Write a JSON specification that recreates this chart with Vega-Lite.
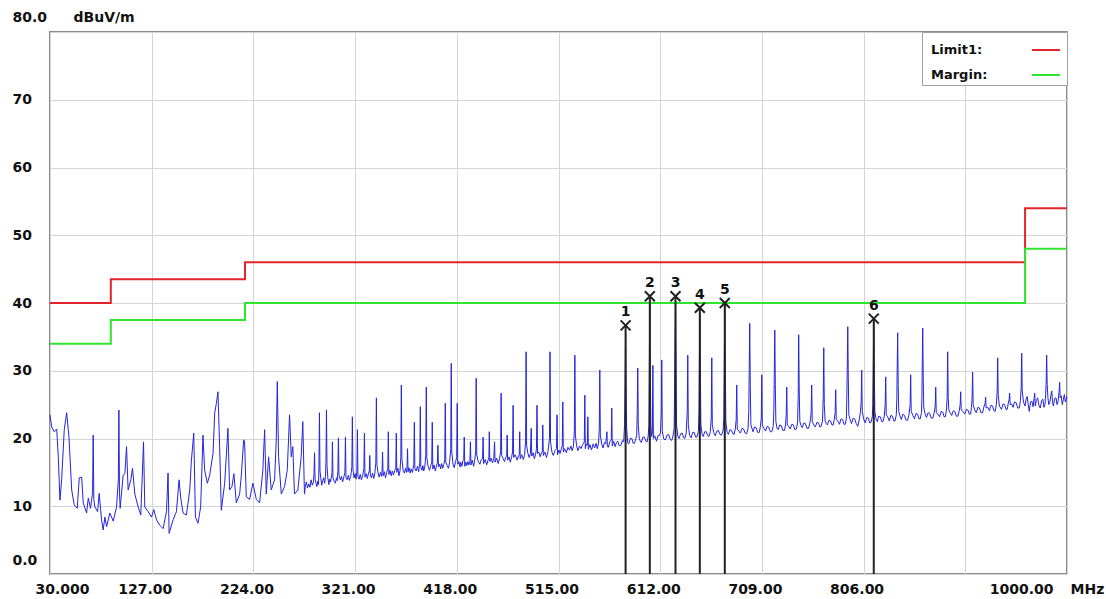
{
"$schema": "https://vega.github.io/schema/vega-lite/v6.json",
"width": 1017, "height": 542,
"autosize": "none",
"padding": {"left": 50, "top": 32, "right": 39, "bottom": 25},
"background": "white",
"config": {"view": {"stroke": "#8c8c8c", "strokeWidth": 2}, "font": "DejaVu Sans"},
"datasets": {
"limits": [
{"series":"Limit1:","f":30,"v":40},{"series":"Limit1:","f":88,"v":43.5},{"series":"Limit1:","f":216,"v":46},{"series":"Limit1:","f":960,"v":54},{"series":"Limit1:","f":1000,"v":54},
{"series":"Margin:","f":30,"v":34},{"series":"Margin:","f":88,"v":37.5},{"series":"Margin:","f":216,"v":40},{"series":"Margin:","f":960,"v":48},{"series":"Margin:","f":1000,"v":48}
],
"markers": [
{"n":"1","f":579.0,"v":36.7},{"n":"2","f":602.1,"v":41.0},{"n":"3","f":626.6,"v":41.0},{"n":"4","f":649.8,"v":39.3},{"n":"5","f":673.6,"v":40.0},{"n":"6","f":815.7,"v":37.7}
],
"trace": [
{"f":30.0,"v":23.5},{"f":31.6,"v":21.7},{"f":34.0,"v":21.0},{"f":36.4,"v":21.4},{"f":37.9,"v":17.3},{"f":39.5,"v":10.9},{"f":41.1,"v":13.9},{"f":43.6,"v":21.3},{"f":45.9,"v":23.8},{"f":48.1,"v":20.2},{"f":50.7,"v":12.4},{"f":53.1,"v":10.2},{"f":56.0,"v":9.7},{"f":57.9,"v":14.2},{"f":60.2,"v":14.3},{"f":61.7,"v":10.5},{"f":64.9,"v":9.0},{"f":66.5,"v":11.2},{"f":68.7,"v":9.7},{"f":70.6,"v":12.0},{"f":71.2,"v":20.5},{"f":71.8,"v":11.0},{"f":72.8,"v":9.9},{"f":75.4,"v":9.2},{"f":76.9,"v":11.9},{"f":79.2,"v":8.0},{"f":80.7,"v":6.5},{"f":82.4,"v":8.4},{"f":84.0,"v":7.0},{"f":87.1,"v":9.0},{"f":90.3,"v":7.8},{"f":93.5,"v":9.9},{"f":95.2,"v":14.0},{"f":95.7,"v":24.2},{"f":96.3,"v":12.0},{"f":96.9,"v":9.7},{"f":99.8,"v":14.6},{"f":101.4,"v":14.8},{"f":103.0,"v":18.8},{"f":104.5,"v":12.4},{"f":107.1,"v":13.9},{"f":108.7,"v":15.6},{"f":110.9,"v":11.8},{"f":114.1,"v":9.9},{"f":116.6,"v":8.7},{"f":119.2,"v":19.5},{"f":120.4,"v":9.9},{"f":123.6,"v":9.2},{"f":126.8,"v":8.4},{"f":129.0,"v":9.5},{"f":131.6,"v":8.0},{"f":134.7,"v":7.2},{"f":137.9,"v":6.7},{"f":141.1,"v":9.2},{"f":142.6,"v":14.9},{"f":143.6,"v":6.0},{"f":147.4,"v":8.0},{"f":150.6,"v":9.2},{"f":153.1,"v":13.9},{"f":154.7,"v":11.2},{"f":156.9,"v":9.0},{"f":160.1,"v":8.7},{"f":163.3,"v":12.4},{"f":164.9,"v":16.8},{"f":167.1,"v":20.8},{"f":168.7,"v":8.4},{"f":171.2,"v":7.5},{"f":173.7,"v":9.9},{"f":175.9,"v":20.5},{"f":177.5,"v":15.3},{"f":180.1,"v":13.4},{"f":182.3,"v":14.6},{"f":185.5,"v":17.8},{"f":187.1,"v":23.8},{"f":188.7,"v":25.2},{"f":190.2,"v":26.9},{"f":191.8,"v":18.8},{"f":193.4,"v":9.4},{"f":196.6,"v":13.4},{"f":199.7,"v":21.5},{"f":201.3,"v":12.4},{"f":203.5,"v":12.9},{"f":205.4,"v":14.8},{"f":207.7,"v":10.5},{"f":210.9,"v":11.8},{"f":212.5,"v":14.6},{"f":214.7,"v":19.8},{"f":215.6,"v":19.5},{"f":217.2,"v":11.4},{"f":220.4,"v":11.0},{"f":223.5,"v":13.4},{"f":226.8,"v":11.0},{"f":229.9,"v":10.5},{"f":233.0,"v":15.3},{"f":234.7,"v":21.3},{"f":236.3,"v":11.8},{"f":238.5,"v":17.3},{"f":241.0,"v":12.4},{"f":244.2,"v":13.9},{"f":245.8,"v":19.8},{"f":246.8,"v":28.4},{"f":248.0,"v":17.3},{"f":250.6,"v":11.8},{"f":253.7,"v":12.9},{"f":256.3,"v":15.3},{"f":258.5,"v":23.5},{"f":260.1,"v":17.3},{"f":261.6,"v":18.8},{"f":263.2,"v":11.8},{"f":266.4,"v":12.4},{"f":269.6,"v":17.3},{"f":271.1,"v":22.5},{"f":272.7,"v":11.8},
{"f":273.5,"v":12.9},{"f":274.5,"v":13.6},{"f":275.6,"v":12.7},{"f":276.8,"v":13.3},{"f":278.0,"v":12.8},{"f":279.0,"v":13.9},{"f":280.2,"v":13.1},{"f":281.3,"v":13.6},{"f":281.8,"v":14.8},{"f":282.3,"v":17.9},{"f":282.8,"v":14.0},{"f":283.6,"v":13.5},{"f":284.5,"v":12.9},{"f":285.4,"v":13.7},{"f":286.1,"v":13.2},{"f":286.5,"v":15.5},{"f":287.0,"v":23.8},{"f":287.5,"v":15.2},{"f":288.3,"v":14.1},{"f":289.2,"v":13.1},{"f":290.1,"v":13.8},{"f":291.0,"v":14.2},{"f":292.0,"v":13.4},{"f":292.8,"v":14.6},{"f":293.2,"v":16.5},{"f":293.7,"v":24.2},{"f":294.2,"v":16.0},{"f":295.0,"v":14.2},{"f":296.0,"v":13.2},{"f":296.8,"v":14.0},{"f":297.6,"v":13.6},{"f":298.4,"v":14.3},{"f":299.0,"v":15.0},{"f":299.4,"v":19.5},{"f":299.9,"v":14.2},{"f":301.0,"v":13.7},{"f":302.2,"v":13.4},{"f":303.3,"v":14.2},{"f":304.0,"v":13.8},{"f":304.6,"v":15.3},{"f":305.1,"v":20.1},{"f":305.6,"v":14.6},{"f":306.9,"v":13.9},{"f":308.0,"v":14.4},{"f":309.1,"v":13.6},{"f":310.2,"v":14.3},{"f":311.3,"v":15.0},{"f":311.8,"v":20.2},{"f":312.3,"v":14.2},{"f":313.5,"v":13.9},{"f":314.6,"v":14.6},{"f":315.6,"v":13.8},{"f":316.8,"v":14.4},{"f":317.9,"v":15.8},{"f":318.4,"v":23.2},{"f":318.9,"v":15.5},{"f":320.0,"v":14.2},{"f":321.0,"v":14.8},{"f":321.9,"v":14.0},{"f":322.7,"v":15.2},{"f":323.2,"v":21.3},{"f":323.7,"v":14.4},{"f":324.8,"v":14.0},{"f":325.9,"v":14.7},{"f":327.0,"v":13.9},{"f":328.2,"v":14.5},{"f":329.4,"v":15.6},{"f":329.9,"v":20.8},{"f":330.4,"v":14.3},{"f":331.6,"v":14.8},{"f":332.7,"v":14.1},{"f":333.8,"v":14.9},{"f":334.6,"v":15.2},{"f":335.0,"v":17.5},{"f":335.5,"v":14.6},{"f":336.6,"v":14.2},{"f":337.7,"v":14.9},{"f":338.8,"v":14.1},{"f":339.8,"v":14.8},{"f":340.8,"v":16.5},{"f":341.3,"v":26.0},{"f":341.8,"v":16.2},{"f":342.9,"v":14.9},{"f":344.0,"v":14.3},{"f":345.1,"v":15.0},{"f":346.3,"v":14.4},{"f":346.8,"v":15.5},{"f":347.2,"v":18.0},{"f":347.7,"v":14.5},{"f":348.9,"v":15.1},{"f":350.0,"v":14.2},{"f":351.1,"v":15.0},{"f":352.2,"v":15.5},{"f":352.7,"v":21.0},{"f":353.2,"v":14.7},{"f":354.3,"v":15.3},{"f":355.4,"v":14.5},{"f":356.5,"v":15.2},{"f":357.6,"v":14.6},{"f":358.8,"v":15.3},{"f":359.8,"v":15.6},{"f":360.3,"v":20.8},{"f":360.8,"v":15.0},{"f":361.8,"v":15.6},{"f":362.8,"v":14.5},{"f":363.8,"v":15.2},{"f":364.6,"v":17.2},{"f":365.1,"v":27.9},{"f":365.6,"v":17.0},{"f":366.8,"v":15.3},{"f":368.0,"v":14.9},{"f":369.1,"v":15.6},{"f":370.1,"v":15.0},{"f":370.6,"v":16.0},{"f":371.0,"v":18.5},{"f":371.5,"v":15.1},{"f":372.5,"v":15.7},{"f":373.5,"v":14.9},{"f":374.5,"v":15.5},{"f":375.7,"v":15.0},{"f":377.0,"v":16.2},{"f":377.5,"v":22.4},{"f":378.0,"v":15.6},{"f":379.2,"v":15.2},{"f":380.5,"v":15.9},{"f":381.6,"v":15.1},{"f":382.7,"v":16.5},{"f":383.2,"v":24.7},{"f":383.7,"v":15.8},{"f":384.8,"v":15.3},{"f":385.7,"v":16.0},{"f":386.5,"v":15.2},{"f":387.5,"v":15.8},{"f":388.4,"v":17.5},{"f":388.9,"v":27.6},{"f":389.4,"v":17.2},{"f":390.6,"v":15.9},{"f":392.0,"v":15.3},{"f":393.1,"v":16.0},{"f":394.1,"v":16.4},{"f":394.6,"v":22.4},{"f":395.1,"v":15.5},{"f":396.3,"v":16.1},{"f":397.5,"v":15.2},{"f":398.6,"v":16.0},{"f":399.5,"v":16.4},{"f":400.0,"v":19.0},{"f":400.5,"v":15.8},{"f":401.7,"v":16.2},{"f":402.6,"v":15.5},{"f":403.5,"v":16.3},{"f":404.6,"v":15.6},{"f":405.6,"v":16.2},{"f":406.5,"v":16.8},{"f":407.0,"v":25.2},{"f":407.5,"v":16.5},{"f":408.8,"v":16.0},{"f":410.0,"v":15.6},{"f":411.1,"v":16.4},{"f":412.2,"v":18.5},{"f":412.7,"v":31.1},{"f":413.2,"v":18.0},{"f":414.4,"v":16.2},{"f":415.5,"v":15.7},{"f":416.7,"v":16.5},{"f":417.9,"v":17.2},{"f":418.4,"v":25.2},{"f":418.9,"v":16.2},{"f":420.0,"v":16.6},{"f":421.0,"v":15.8},{"f":421.8,"v":16.5},{"f":422.8,"v":15.9},{"f":423.8,"v":16.7},{"f":424.6,"v":16.9},{"f":425.1,"v":20.2},{"f":425.6,"v":15.9},{"f":426.6,"v":16.5},{"f":427.6,"v":16.0},{"f":428.5,"v":16.6},{"f":429.6,"v":16.1},{"f":430.5,"v":16.6},{"f":431.0,"v":19.5},{"f":431.5,"v":16.1},{"f":432.7,"v":16.8},{"f":434.0,"v":15.9},{"f":435.0,"v":16.7},{"f":436.0,"v":18.0},{"f":436.5,"v":28.9},{"f":437.0,"v":17.6},{"f":438.5,"v":16.6},{"f":440.0,"v":16.2},{"f":441.3,"v":16.9},{"f":442.6,"v":17.0},{"f":443.1,"v":20.2},{"f":443.6,"v":16.3},{"f":445.0,"v":16.9},{"f":446.5,"v":16.1},{"f":447.8,"v":16.8},{"f":448.6,"v":17.2},{"f":449.0,"v":21.0},{"f":449.5,"v":16.6},{"f":450.7,"v":17.1},{"f":452.0,"v":16.4},{"f":453.3,"v":17.0},{"f":454.0,"v":19.5},{"f":454.5,"v":16.5},{"f":456.0,"v":17.1},{"f":457.5,"v":16.3},{"f":458.7,"v":17.0},{"f":459.8,"v":18.0},{"f":460.3,"v":26.7},{"f":460.8,"v":17.5},{"f":462.2,"v":17.0},{"f":463.5,"v":16.6},{"f":464.8,"v":17.3},{"f":465.6,"v":17.4},{"f":466.0,"v":20.5},{"f":466.5,"v":16.8},{"f":467.8,"v":17.3},{"f":469.0,"v":16.5},{"f":470.2,"v":17.2},{"f":471.2,"v":18.0},{"f":471.7,"v":24.9},{"f":472.2,"v":17.2},{"f":473.8,"v":17.6},{"f":475.5,"v":16.8},{"f":476.8,"v":17.4},{"f":477.6,"v":17.6},{"f":478.0,"v":21.0},{"f":478.5,"v":17.0},{"f":480.0,"v":17.6},{"f":481.5,"v":16.9},{"f":482.6,"v":17.5},{"f":483.6,"v":19.5},{"f":484.1,"v":32.8},{"f":484.6,"v":19.0},{"f":485.8,"v":17.8},{"f":487.0,"v":17.2},{"f":488.2,"v":17.8},{"f":489.0,"v":21.5},{"f":489.5,"v":17.4},{"f":490.8,"v":17.9},{"f":492.0,"v":17.0},{"f":493.2,"v":17.7},{"f":494.0,"v":18.5},{"f":494.5,"v":24.9},{"f":495.0,"v":17.8},{"f":496.3,"v":18.0},{"f":497.5,"v":17.3},{"f":498.8,"v":17.9},{"f":499.6,"v":18.0},{"f":500.0,"v":22.0},{"f":500.5,"v":17.5},{"f":502.0,"v":18.0},{"f":503.5,"v":17.2},{"f":505.0,"v":18.1},{"f":506.4,"v":20.0},{"f":506.9,"v":32.8},{"f":507.4,"v":19.5},{"f":508.7,"v":18.0},{"f":510.0,"v":17.5},{"f":511.6,"v":18.2},{"f":513.1,"v":18.5},{"f":513.6,"v":23.5},{"f":514.1,"v":17.6},{"f":515.3,"v":18.3},{"f":516.5,"v":17.8},{"f":517.6,"v":18.4},{"f":518.6,"v":19.0},{"f":519.1,"v":25.4},{"f":519.6,"v":18.0},
{"f":520.8,"v":18.5},{"f":522.5,"v":17.9},{"f":524.0,"v":18.7},{"f":525.5,"v":18.3},{"f":526.8,"v":18.9},{"f":528.0,"v":18.2},{"f":529.2,"v":18.8},{"f":530.1,"v":21.0},{"f":530.6,"v":32.3},{"f":531.1,"v":20.5},{"f":532.3,"v":18.9},{"f":533.5,"v":18.2},{"f":535.0,"v":18.9},{"f":536.5,"v":18.5},{"f":538.0,"v":19.1},{"f":539.6,"v":19.5},{"f":540.1,"v":26.4},{"f":540.6,"v":18.5},{"f":541.6,"v":19.2},{"f":542.5,"v":19.0},{"f":543.0,"v":23.2},{"f":543.5,"v":18.4},{"f":545.0,"v":19.1},{"f":546.5,"v":18.3},{"f":548.0,"v":19.2},{"f":549.5,"v":18.6},{"f":550.8,"v":19.3},{"f":552.0,"v":18.5},{"f":553.2,"v":19.3},{"f":553.9,"v":21.5},{"f":554.4,"v":30.1},{"f":554.9,"v":20.5},{"f":556.2,"v":19.2},{"f":557.5,"v":18.6},{"f":558.8,"v":19.4},{"f":560.0,"v":19.2},{"f":561.2,"v":21.0},{"f":561.6,"v":18.8},{"f":562.5,"v":18.7},{"f":563.9,"v":19.5},{"f":565.3,"v":19.8},{"f":565.8,"v":24.5},{"f":566.3,"v":18.9},{"f":567.6,"v":19.6},{"f":569.0,"v":18.8},{"f":570.3,"v":19.4},{"f":571.5,"v":19.6},{"f":573.0,"v":18.9},{"f":574.5,"v":19.0},{"f":575.8,"v":19.7},{"f":577.2,"v":19.5},{"f":578.0,"v":22.0},{"f":578.5,"v":28.0},{"f":579.0,"v":35.5},{"f":579.5,"v":26.0},{"f":580.0,"v":21.5},{"f":581.0,"v":19.4},{"f":582.0,"v":19.2},{"f":583.5,"v":20.0},{"f":585.0,"v":20.0},{"f":586.2,"v":19.3},{"f":587.5,"v":19.3},{"f":588.8,"v":20.0},{"f":589.6,"v":20.5},{"f":590.1,"v":24.0},{"f":590.6,"v":30.4},{"f":591.1,"v":22.0},{"f":592.0,"v":20.0},{"f":593.0,"v":19.6},{"f":594.0,"v":19.4},{"f":595.5,"v":20.2},{"f":597.0,"v":20.2},{"f":598.3,"v":19.6},{"f":599.5,"v":19.5},{"f":600.6,"v":20.4},{"f":601.2,"v":22.0},{"f":601.6,"v":30.0},{"f":602.1,"v":40.4},{"f":602.6,"v":29.0},{"f":603.1,"v":22.0},{"f":603.8,"v":20.3},{"f":604.5,"v":20.8},{"f":605.0,"v":30.8},{"f":605.5,"v":20.0},{"f":606.8,"v":20.4},{"f":608.5,"v":19.6},{"f":609.8,"v":20.4},{"f":611.0,"v":20.4},{"f":612.2,"v":20.8},{"f":613.0,"v":23.5},{"f":613.5,"v":31.6},{"f":614.0,"v":21.0},{"f":615.5,"v":19.9},{"f":617.0,"v":19.8},{"f":618.5,"v":20.5},{"f":620.0,"v":20.6},{"f":621.5,"v":19.9},{"f":623.0,"v":19.7},{"f":624.4,"v":20.5},{"f":625.3,"v":21.5},{"f":625.8,"v":28.5},{"f":626.1,"v":33.0},{"f":626.6,"v":40.4},{"f":627.1,"v":30.0},{"f":627.6,"v":22.0},{"f":628.8,"v":20.3},{"f":630.0,"v":20.0},{"f":631.5,"v":20.7},{"f":633.0,"v":20.8},{"f":634.3,"v":20.1},{"f":635.5,"v":20.0},{"f":636.8,"v":20.8},{"f":637.8,"v":24.0},{"f":638.3,"v":32.3},{"f":638.8,"v":22.0},{"f":640.0,"v":20.5},{"f":641.5,"v":20.1},{"f":643.0,"v":20.9},{"f":644.5,"v":20.9},{"f":645.8,"v":20.2},{"f":647.0,"v":20.2},{"f":648.4,"v":21.0},{"f":649.0,"v":24.0},{"f":649.3,"v":30.0},{"f":649.8,"v":38.5},{"f":650.3,"v":30.0},{"f":650.8,"v":22.0},{"f":652.0,"v":20.6},{"f":653.0,"v":20.3},{"f":654.5,"v":21.0},{"f":656.0,"v":21.0},{"f":657.3,"v":20.4},{"f":658.5,"v":20.3},{"f":659.8,"v":21.0},{"f":660.7,"v":23.0},{"f":661.2,"v":31.9},{"f":661.7,"v":22.0},{"f":663.0,"v":20.9},{"f":664.5,"v":20.4},{"f":666.0,"v":21.1},{"f":667.5,"v":21.2},{"f":669.0,"v":20.6},{"f":670.5,"v":20.5},{"f":672.0,"v":21.2},{"f":672.7,"v":23.0},{"f":673.1,"v":30.0},{"f":673.6,"v":39.7},{"f":674.1,"v":31.0},{"f":674.6,"v":22.5},{"f":675.8,"v":20.9},{"f":677.0,"v":20.6},{"f":678.5,"v":21.3},{"f":680.0,"v":21.2},{"f":681.3,"v":20.7},{"f":682.5,"v":20.6},{"f":683.6,"v":21.4},{"f":684.5,"v":22.8},{"f":685.0,"v":27.9},{"f":685.5,"v":21.4},{"f":687.0,"v":21.1},{"f":688.5,"v":20.8},{"f":690.0,"v":21.5},{"f":691.5,"v":21.4},{"f":693.0,"v":20.8},{"f":694.5,"v":20.7},{"f":695.8,"v":21.5},{"f":696.5,"v":24.0},{"f":696.9,"v":30.0},{"f":697.4,"v":37.0},{"f":697.9,"v":28.0},{"f":698.5,"v":22.0},{"f":700.5,"v":21.0},{"f":702.0,"v":21.7},{"f":703.5,"v":21.6},{"f":705.0,"v":20.9},{"f":706.5,"v":20.9},{"f":707.6,"v":21.8},{"f":708.4,"v":23.0},{"f":708.9,"v":29.4},{"f":709.4,"v":22.0},{"f":711.0,"v":21.5},{"f":712.5,"v":21.1},{"f":714.0,"v":21.8},{"f":715.5,"v":21.7},{"f":717.0,"v":21.0},{"f":718.5,"v":21.0},{"f":719.8,"v":21.8},{"f":720.4,"v":24.0},{"f":720.8,"v":29.5},{"f":721.3,"v":36.0},{"f":721.8,"v":28.0},{"f":722.3,"v":22.5},{"f":723.5,"v":21.5},{"f":724.5,"v":21.3},{"f":726.0,"v":22.0},{"f":727.5,"v":21.9},{"f":729.0,"v":21.2},{"f":730.5,"v":21.2},{"f":731.5,"v":22.0},{"f":732.2,"v":23.5},{"f":732.7,"v":27.6},{"f":733.2,"v":22.0},{"f":734.6,"v":21.8},{"f":736.0,"v":21.4},{"f":737.5,"v":22.1},{"f":739.0,"v":22.0},{"f":740.4,"v":21.3},{"f":741.8,"v":21.4},{"f":743.0,"v":22.3},{"f":743.6,"v":26.0},{"f":744.1,"v":35.3},{"f":744.6,"v":27.0},{"f":745.2,"v":22.5},{"f":746.3,"v":21.9},{"f":747.5,"v":21.6},{"f":749.0,"v":22.3},{"f":750.5,"v":22.2},{"f":752.0,"v":21.5},{"f":753.5,"v":21.5},{"f":754.8,"v":22.3},{"f":755.5,"v":23.0},{"f":756.0,"v":24.0},{"f":756.5,"v":27.9},{"f":757.0,"v":22.5},{"f":758.5,"v":22.0},{"f":760.0,"v":21.7},{"f":761.5,"v":22.4},{"f":763.0,"v":22.3},{"f":764.3,"v":21.7},{"f":765.5,"v":21.8},{"f":766.8,"v":22.6},{"f":767.5,"v":26.0},{"f":768.0,"v":33.4},{"f":768.5,"v":25.0},{"f":769.3,"v":22.6},{"f":770.4,"v":22.2},{"f":771.5,"v":22.0},{"f":773.0,"v":22.7},{"f":774.5,"v":22.6},{"f":775.8,"v":22.0},{"f":777.0,"v":22.0},{"f":778.0,"v":22.8},{"f":778.9,"v":23.8},{"f":779.4,"v":27.2},{"f":779.9,"v":22.8},{"f":781.5,"v":22.6},{"f":783.0,"v":22.1},{"f":784.5,"v":22.9},{"f":786.0,"v":22.8},{"f":787.3,"v":22.1},{"f":788.5,"v":22.1},{"f":789.6,"v":23.0},{"f":790.1,"v":27.0},{"f":790.4,"v":30.0},{"f":790.9,"v":36.5},{"f":791.4,"v":29.0},{"f":791.9,"v":23.5},{"f":793.2,"v":22.8},{"f":794.5,"v":22.2},{"f":796.0,"v":23.0},{"f":797.5,"v":22.9},{"f":799.0,"v":22.2},{"f":800.5,"v":21.8},{"f":802.0,"v":22.9},{"f":803.0,"v":24.0},{"f":803.7,"v":25.5},{"f":804.2,"v":30.1},{"f":804.7,"v":24.0},{"f":806.0,"v":22.9},{"f":807.5,"v":22.3},{"f":809.0,"v":23.1},{"f":810.5,"v":23.0},{"f":811.8,"v":22.3},{"f":813.2,"v":22.4},{"f":814.3,"v":23.2},{"f":814.8,"v":25.0},{"f":815.2,"v":30.0},{"f":815.7,"v":37.2},{"f":816.2,"v":30.0},{"f":816.7,"v":24.0},{"f":817.8,"v":22.9},{"f":819.0,"v":22.5},{"f":820.5,"v":23.3},{"f":822.0,"v":23.2},{"f":823.3,"v":22.5},{"f":824.5,"v":22.5},{"f":825.7,"v":23.3},{"f":826.6,"v":25.0},{"f":827.1,"v":29.1},{"f":827.6,"v":23.5},{"f":829.0,"v":23.2},{"f":830.5,"v":22.6},{"f":832.0,"v":23.4},{"f":833.5,"v":23.3},{"f":834.8,"v":22.6},{"f":836.0,"v":22.6},{"f":837.2,"v":23.5},{"f":837.7,"v":26.0},{"f":838.0,"v":30.0},{"f":838.5,"v":35.6},{"f":839.0,"v":28.0},{"f":839.5,"v":24.0},{"f":840.8,"v":23.3},{"f":842.0,"v":22.8},{"f":843.5,"v":23.6},{"f":845.0,"v":23.4},{"f":846.5,"v":22.7},{"f":848.0,"v":22.7},{"f":849.3,"v":23.5},{"f":850.4,"v":25.0},{"f":850.9,"v":29.4},{"f":851.4,"v":24.0},{"f":853.0,"v":23.4},{"f":854.5,"v":22.9},{"f":856.0,"v":23.7},{"f":857.5,"v":23.6},{"f":858.8,"v":22.9},{"f":860.0,"v":22.9},{"f":861.2,"v":23.8},{"f":861.6,"v":26.0},{"f":861.9,"v":30.0},{"f":862.4,"v":36.3},{"f":862.9,"v":28.5},{"f":863.4,"v":24.5},{"f":864.7,"v":23.6},{"f":866.0,"v":23.1},{"f":867.5,"v":23.8},{"f":869.0,"v":23.7},{"f":870.5,"v":23.0},{"f":872.0,"v":23.0},{"f":873.3,"v":23.8},{"f":874.3,"v":24.8},{"f":874.8,"v":27.6},{"f":875.3,"v":23.8},{"f":877.0,"v":23.6},{"f":878.5,"v":23.2},{"f":880.0,"v":24.0},{"f":881.5,"v":23.9},{"f":882.8,"v":23.2},{"f":884.0,"v":23.2},{"f":885.0,"v":24.2},{"f":885.7,"v":26.0},{"f":886.2,"v":32.8},{"f":886.7,"v":26.0},{"f":887.3,"v":24.2},{"f":888.6,"v":23.8},{"f":890.0,"v":23.4},{"f":891.5,"v":24.1},{"f":893.0,"v":24.0},{"f":894.5,"v":23.3},{"f":896.0,"v":23.3},{"f":897.2,"v":24.1},{"f":898.1,"v":25.0},{"f":898.6,"v":26.9},{"f":899.1,"v":24.2},{"f":900.8,"v":24.0},{"f":902.5,"v":23.6},{"f":904.0,"v":24.3},{"f":905.5,"v":24.2},{"f":906.8,"v":23.6},{"f":908.0,"v":23.6},{"f":908.9,"v":24.6},{"f":909.5,"v":26.0},{"f":910.0,"v":29.8},{"f":910.5,"v":25.0},{"f":912.0,"v":24.2},{"f":913.5,"v":23.8},{"f":915.0,"v":24.6},{"f":916.5,"v":24.5},{"f":918.0,"v":23.8},{"f":919.5,"v":23.8},{"f":920.8,"v":24.7},{"f":921.9,"v":25.2},{"f":922.4,"v":26.1},{"f":922.9,"v":24.5},{"f":924.5,"v":24.6},{"f":926.0,"v":24.1},{"f":927.5,"v":24.9},{"f":929.0,"v":24.8},{"f":930.3,"v":24.1},{"f":931.5,"v":24.0},{"f":932.6,"v":25.0},{"f":933.4,"v":27.0},{"f":933.9,"v":31.9},{"f":934.4,"v":26.5},{"f":935.5,"v":24.8},{"f":937.5,"v":24.3},{"f":939.0,"v":25.1},{"f":940.5,"v":25.0},{"f":941.8,"v":24.3},{"f":943.0,"v":24.3},{"f":944.0,"v":25.2},{"f":944.8,"v":25.8},{"f":945.3,"v":26.7},{"f":945.8,"v":25.0},{"f":947.2,"v":25.1},{"f":948.5,"v":24.6},{"f":950.0,"v":25.4},{"f":951.5,"v":25.3},{"f":953.0,"v":24.5},{"f":954.5,"v":24.5},{"f":955.6,"v":25.6},{"f":956.3,"v":27.5},{"f":956.8,"v":32.6},{"f":957.3,"v":27.0},{"f":958.6,"v":25.3},{"f":960.0,"v":24.8},{"f":961.0,"v":25.8},{"f":962.0,"v":26.2},{"f":963.0,"v":25.0},{"f":964.0,"v":24.0},{"f":965.2,"v":25.4},{"f":966.5,"v":25.5},{"f":967.6,"v":24.7},{"f":968.7,"v":26.0},{"f":969.2,"v":26.7},{"f":969.7,"v":24.8},{"f":970.8,"v":25.6},{"f":972.0,"v":26.0},{"f":973.2,"v":24.9},{"f":974.5,"v":24.5},{"f":975.8,"v":25.6},{"f":977.0,"v":25.8},{"f":978.0,"v":24.6},{"f":979.0,"v":25.0},{"f":979.6,"v":26.5},{"f":980.1,"v":28.0},{"f":980.6,"v":32.3},{"f":981.1,"v":28.0},{"f":981.8,"v":26.0},{"f":982.6,"v":25.0},{"f":983.5,"v":25.2},{"f":984.5,"v":26.3},{"f":985.5,"v":27.0},{"f":986.2,"v":25.4},{"f":987.0,"v":24.8},{"f":988.3,"v":25.9},{"f":989.5,"v":26.0},{"f":990.5,"v":25.0},{"f":991.5,"v":25.5},{"f":992.5,"v":27.0},{"f":993.0,"v":28.3},{"f":993.5,"v":26.0},{"f":994.5,"v":26.3},{"f":995.5,"v":25.0},{"f":996.5,"v":25.8},{"f":997.5,"v":26.5},{"f":998.4,"v":25.4},{"f":999.2,"v":25.8},{"f":1000.0,"v":26.2}
]
},
"layer": [
{
"data": {"name": "limits"},
"mark": {"type": "line", "interpolate": "step-after", "strokeWidth": 2},
"encoding": {
"x": {"field": "f", "type": "quantitative", "scale": {"domain": [30, 1000], "nice": false, "zero": false},
"axis": {"values": [30,127,224,321,418,515,612,709,806,903,1000],
"labelExpr": "datum.value==30?'30.000':datum.value==903?'':format(datum.value,'.2f')",
"labelFlush": false, "labelOverlap": false, "labelBound": false, "domain": false, "ticks": false, "tickSize": 0, "labelPadding": 8,
"labelFont": "DejaVu Sans", "labelFontWeight": "bold", "labelFontSize": 14, "labelColor": "#111111",
"labelAlign": {"condition": [{"test": "datum.value==30", "value": "left"}, {"test": "datum.value==1000", "value": "right"}], "value": "center"},
"labelOffset": {"condition": [{"test": "datum.value==30", "value": -15}, {"test": "datum.value==1000", "value": -14}], "value": -7},
"grid": true, "gridColor": "#d4d4d4", "gridWidth": 1,
"title": "MHz", "titleX": 1020, "titleY": 15, "titleAlign": "left", "titleBaseline": "middle", "titleAngle": 0,
"titleFont": "DejaVu Sans", "titleFontWeight": "bold", "titleFontSize": 14, "titleColor": "#111111"}},
"y": {"field": "v", "type": "quantitative", "scale": {"domain": [0, 80], "nice": false, "zero": false},
"axis": {"values": [0,10,20,30,40,50,60,70,80],
"labelExpr": "datum.value==0?'0.0':datum.value==80?'80.0':''+datum.value",
"labelOverlap": false, "labelBound": false, "labelFlush": false, "domain": false, "ticks": false, "tickSize": 0, "labelPadding": 38,
"labelAlign": "left", "labelBaseline": "middle",
"labelOffset": {"condition": [{"test": "datum.value==0", "value": -14}, {"test": "datum.value==80", "value": -15}], "value": 0},
"labelFont": "DejaVu Sans", "labelFontWeight": "bold", "labelFontSize": 14, "labelColor": "#111111",
"grid": true, "gridColor": "#d4d4d4", "gridWidth": 1,
"title": "dBuV/m", "titleX": 23, "titleY": -15, "titleAngle": 0, "titleAlign": "left", "titleBaseline": "middle",
"titleFont": "DejaVu Sans", "titleFontWeight": "bold", "titleFontSize": 14, "titleColor": "#111111"}},
"color": {"field": "series", "type": "nominal",
"scale": {"domain": ["Limit1:", "Margin:"], "range": ["#e3242b", "#2ee62e"]},
"legend": {"title": null, "orient": "top-right", "offset": 0,
"symbolType": "stroke", "symbolSize": 784, "symbolStrokeWidth": 2,
"symbolOffset": 106, "labelOffset": -130, "padding": 3, "rowPadding": 3,
"labelFont": "DejaVu Sans", "labelFontWeight": "bold", "labelFontSize": 13, "labelColor": "#111111", "labelLimit": 300,
"fillColor": "white", "strokeColor": "#a0a0a0"}}
}
},
{
"data": {"name": "trace"},
"mark": {"type": "line", "color": "#2424dc", "strokeWidth": 1},
"encoding": {"x": {"field": "f", "type": "quantitative"}, "y": {"field": "v", "type": "quantitative"}}
},
{
"data": {"name": "markers"},
"mark": {"type": "rule", "color": "#222222", "strokeWidth": 2},
"encoding": {"x": {"field": "f", "type": "quantitative"}, "y": {"field": "v", "type": "quantitative"}, "y2": {"datum": 0}}
},
{
"data": {"name": "markers"},
"mark": {"type": "point", "shape": "M-1,-1L1,1M-1,1L1,-1", "filled": false, "color": "#222222", "strokeWidth": 2, "size": 100, "opacity": 1},
"encoding": {"x": {"field": "f", "type": "quantitative"}, "y": {"field": "v", "type": "quantitative"}}
},
{
"data": {"name": "markers"},
"mark": {"type": "text", "dy": -13, "font": "DejaVu Sans", "fontWeight": "bold", "fontSize": 14, "color": "#111111"},
"encoding": {"x": {"field": "f", "type": "quantitative"}, "y": {"field": "v", "type": "quantitative"}, "text": {"field": "n"}}
}
]
}
